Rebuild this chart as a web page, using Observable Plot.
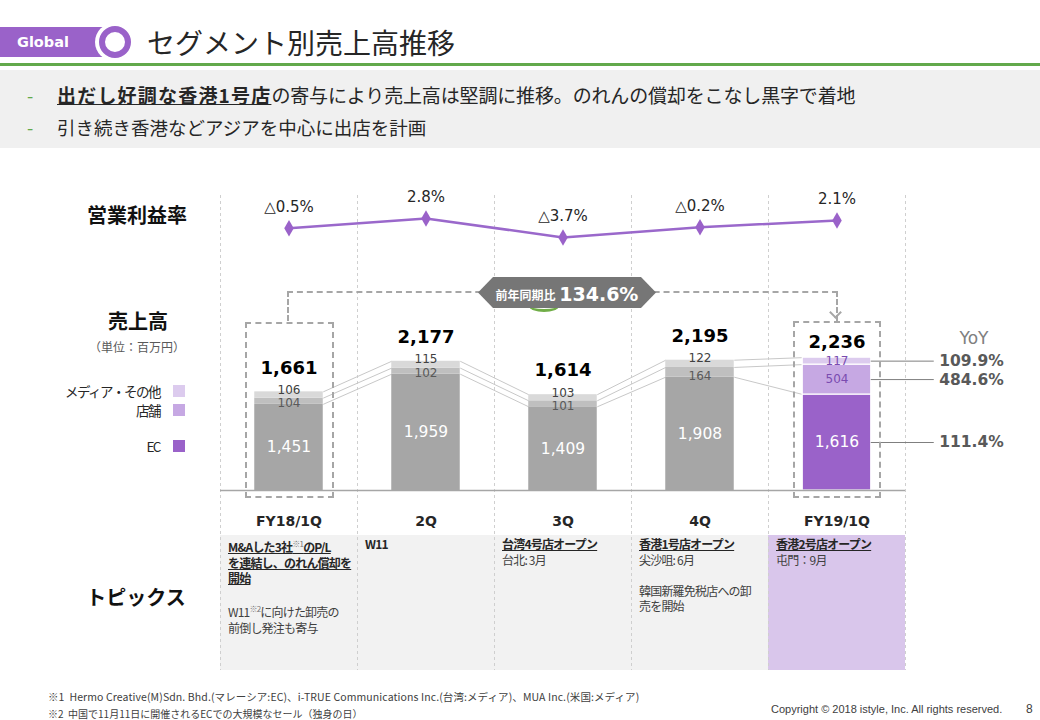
<!DOCTYPE html>
<html><head><meta charset="utf-8">
<script src="https://cdn.jsdelivr.net/npm/d3@7"></script>
<script src="https://cdn.jsdelivr.net/npm/@observablehq/plot@0.6"></script>
<style>
body{margin:0;background:#fff;font-family:"Noto Sans CJK JP","Noto Sans",sans-serif;color:#262626;}
#page{position:relative;width:1040px;height:720px;overflow:hidden;background:#fff;}
.a{position:absolute;white-space:nowrap;}
.lay{position:absolute;left:0;}
.topic{position:absolute;top:536px;font-size:12px;line-height:15.5px;letter-spacing:-0.8px;color:#404040;z-index:3;white-space:nowrap;}
.topic b{color:#262626;text-decoration:underline;}
.sq{position:absolute;width:12px;height:12px;left:173px;}
.lg{position:absolute;right:880px;font-size:13.5px;letter-spacing:-1.5px;color:#262626;transform:translateY(-50%);white-space:nowrap;}
.ttl{position:absolute;font-size:20px;font-weight:bold;color:#111;transform:translate(-50%,-50%);white-space:nowrap;}
</style></head>
<body><div id="page">
  <!-- header -->
  <div class="a" style="left:0;top:27px;width:104px;height:30px;background:#9a62c9;"></div>
  <div class="a" style="left:17px;top:27px;height:30px;line-height:30px;color:#fff;font-family:'DejaVu Sans';font-weight:bold;font-size:14.5px;">Global</div>
  <div class="a" style="left:95px;top:23px;width:38px;height:38px;border-radius:50%;background:#fff;"></div>
  <div class="a" style="left:99px;top:26px;width:20px;height:20px;border-radius:50%;border:6px solid #9a62c9;background:#fff;"></div>
  <div class="a" style="left:147px;top:22px;font-size:28px;line-height:40px;color:#262626;">セグメント別売上高推移</div>
  <div class="a" style="left:0;top:63px;width:1040px;height:3px;background:#62a94b;"></div>
  <div class="a" style="left:0;top:70px;width:1040px;height:78px;background:#f0f0f0;"></div>
  <div class="a" style="left:27px;top:82px;font-size:18px;line-height:26px;color:#62a94b;">-</div>
  <div class="a" style="left:27px;top:114px;font-size:18px;line-height:26px;color:#62a94b;">-</div>
  <div class="a" style="left:57px;top:82px;font-size:19px;line-height:26px;color:#262626;"><b style="text-decoration:underline;letter-spacing:1.2px;">出だし好調な香港1号店</b><span style="letter-spacing:-0.15px;">の寄与により売上高は堅調に推移。のれんの償却をこなし黒字で着地</span></div>
  <div class="a" style="left:57px;top:114px;font-size:18.5px;line-height:26px;color:#262626;">引き続き香港などアジアを中心に出店を計画</div>

  <!-- left titles -->
  <div class="ttl" style="left:137px;top:214px;">営業利益率</div>
  <div class="ttl" style="left:138px;top:320px;">売上高</div>
  <div class="a" style="left:137px;top:346px;transform:translate(-50%,-50%);font-size:12px;color:#595959;">（単位：百万円）</div>
  <div class="ttl" style="left:136px;top:596px;">トピックス</div>
  <div id="legend"></div>

  <!-- topics backgrounds -->
  <div class="a" style="left:220px;top:535px;width:548px;height:135px;background:#f2f2f2;"></div>
  <div class="a" style="left:768px;top:535px;width:137px;height:135px;background:#d9c6eb;"></div>

  <div id="bars" class="lay" style="top:180px;z-index:1;"></div>
  <div id="margin" class="lay" style="top:180px;z-index:2;"></div>

  <!-- annotations -->
  <div class="a" style="left:287px;top:291px;width:547px;height:28px;border-top:2px dashed #a6a6a6;border-left:2px dashed #a6a6a6;border-right:2px dashed #a6a6a6;z-index:2;"></div>
  <div class="a" style="left:831px;top:308px;width:7px;height:7px;border-right:2px solid #a6a6a6;border-bottom:2px solid #a6a6a6;transform:rotate(45deg);z-index:2;"></div>
  <div class="a" style="left:245px;top:322px;width:85px;height:172px;border:2px dashed #a6a6a6;z-index:2;"></div>
  <div class="a" style="left:793px;top:321px;width:84px;height:173px;border:2px dashed #a6a6a6;z-index:2;"></div>
  <div class="a" style="left:529px;top:300px;width:30px;height:9px;border-bottom:3px solid #70ad47;border-radius:50%;z-index:2;"></div>
  <div class="a" style="left:478px;top:277px;width:178px;height:31px;background:#767676;clip-path:polygon(0 50%,15px 0,calc(100% - 15px) 0,100% 50%,calc(100% - 15px) 100%,15px 100%);z-index:3;"></div>
  <div id="hexText" class="a" style="left:478px;top:277px;width:178px;height:31px;line-height:31px;text-align:center;color:#fff;font-weight:bold;z-index:4;"></div>
  <div class="a" style="left:974px;top:338px;transform:translate(-50%,-50%);font-family:'DejaVu Sans';font-size:17px;color:#808080;z-index:3;">YoY</div>

  <div id="topics"></div>

  <!-- footer -->
  <div class="a" style="left:48px;top:690px;font-size:10.5px;line-height:14px;color:#404040;letter-spacing:0.1px;">※1&nbsp; Hermo Creative(M)Sdn. Bhd.(マレーシア:EC)、i-TRUE Communications Inc.(台湾:メディア)、MUA Inc.(米国:メディア)</div>
  <div class="a" style="left:48px;top:707px;font-size:10px;line-height:14px;color:#404040;">※2&nbsp; 中国で11月11日に開催されるECでの大規模なセール（独身の日）</div>
  <div class="a" style="left:771px;top:702px;font-size:11px;line-height:14px;color:#404040;font-family:'Liberation Sans';">Copyright © 2018 istyle, Inc. All rights reserved.</div>
  <div class="a" style="left:1026px;top:701px;font-size:12px;line-height:16px;color:#404040;font-family:'Liberation Sans';">8</div>
</div>
<script>
// ---- data ----
const quarters = ["FY18/1Q", "2Q", "3Q", "4Q", "FY19/1Q"];
const ecSales = [1451, 1959, 1409, 1908, 1616];
const storeSales = [104, 102, 101, 164, 504];
const mediaSales = [106, 115, 103, 122, 117];
const totalSales = [1661, 2177, 1614, 2195, 2236];
const opMargin = [-0.5, 2.8, -3.7, -0.2, 2.1];
const yoySegments = ["media", "store", "EC"];
const yoyValues = [109.9, 484.6, 111.4];
const totalYoY = 134.6;
const legendNames = ["メディア・その他", "店舗", "EC"];
const topicHeads = ["M&Aした3社<sup style='font-size:8px;font-weight:normal;color:#777'>※1</sup>のP/L<br>を連結し、のれん償却を<br>開始", "W11", "台湾4号店オープン", "香港1号店オープン", "香港2号店オープン"];
const topicBodies = ["<br>W11<sup style='font-size:8px;color:#777'>※2</sup>に向けた卸売の<br>前倒し発注も寄与", "", "台北: 3月", "尖沙咀: 6月<br><br>韓国新羅免税店への卸<br>売を開始", "屯門：9月"];

// ---- styling ----
const gray = {EC: "#a6a6a6", store: "#bfbfbf", media: "#d9d9d9"};
const purple = {EC: "#9a62c9", store: "#c6a8e3", media: "#dccbee"};
const fmt = d3.format(",");

const segs = [];
quarters.forEach((q, i) => {
  const pal = i === 4 ? purple : gray;
  const e = ecSales[i], s = storeSales[i], m = mediaSales[i];
  segs.push({i, seg: "EC", y1: 0, y2: e, v: e, fill: pal.EC});
  segs.push({i, seg: "store", y1: e, y2: e + s, v: s, fill: pal.store});
  segs.push({i, seg: "media", y1: e + s, y2: e + s + m, v: m, fill: pal.media});
});
const levels = [ecSales.map((e, i) => e), ecSales.map((e, i) => e + storeSales[i]), ecSales.map((e, i) => e + storeSales[i] + mediaSales[i])];
const links = [];
for (let i = 0; i < 4; i++) for (const L of levels) links.push({x1: i + 0.25, x2: i + 0.75, y1: L[i], y2: L[i + 1]});
const cur = segs.filter(d => d.i === 4);
const yoyData = yoySegments.map((s, k) => {
  const d = cur.find(c => c.seg === s);
  return {y: (d.y1 + d.y2) / 2, v: yoyValues[k]};
});
const rows = totalSales.map((t, i) => ({i, t, e: ecSales[i]}));

const bars = Plot.plot({
  width: 1040, height: 490,
  marginLeft: 220, marginRight: 135, marginTop: 0, marginBottom: 180,
  x: {domain: [-0.5, 4.5], axis: null},
  y: {domain: [0, 5220], axis: null},
  style: {background: "transparent", overflow: "visible", fontFamily: "DejaVu Sans"},
  marks: [
    Plot.ruleX(d3.range(6).map(k => k - 0.5), {stroke: "#cfcfcf", strokeDasharray: "3,3", insetTop: 15, insetBottom: -180}),
    Plot.link(links, {x1: "x1", x2: "x2", y1: "y1", y2: "y2", stroke: "#c8c8c8", strokeWidth: 1}),
    Plot.rect(segs.filter(d => d.i < 4), {x1: d => d.i - 0.25, x2: d => d.i + 0.25, y1: "y1", y2: "y2", fill: "fill"}),
    Plot.rect(cur, {x1: d => d.i - 0.25, x2: d => d.i + 0.25, y1: "y1", y2: "y2", fill: "fill", stroke: "white", strokeWidth: 1.2}),
    Plot.ruleY([0], {stroke: "#a6a6a6", strokeWidth: 1.3}),
    // totals
    Plot.text(rows.filter(d => d.i < 4), {x: "i", y: "t", text: d => fmt(d.t), dy: -24, fontSize: 18, fontWeight: "bold", fill: "#000"}),
    Plot.text(rows.filter(d => d.i === 4), {x: "i", y: "t", text: d => fmt(d.t), dy: -15, fontSize: 18, fontWeight: "bold", fill: "#000"}),
    // segment labels (gray bars)
    Plot.text(segs.filter(d => d.i < 4 && d.seg === "media"), {x: "i", y: "y2", text: d => fmt(d.v), dy: -2, fontSize: 12, fill: "#404040"}),
    Plot.text(segs.filter(d => d.i < 4 && d.seg === "store"), {x: "i", y: "y1", text: d => fmt(d.v), dy: -1, fontSize: 12, fill: "#595959"}),
    Plot.text(segs.filter(d => d.seg === "EC"), {x: "i", y: d => d.y2 / 2, text: d => fmt(d.v), fontSize: 15.5, fill: "white"}),
    // segment labels (current quarter)
    Plot.text(cur.filter(d => d.seg !== "EC"), {x: "i", y: d => (d.y1 + d.y2) / 2, text: d => fmt(d.v), fontSize: 12, fill: "#7a4bb0"}),
    // category labels
    Plot.text(quarters, {x: (d, i) => i, y: () => 0, text: d => d, dy: 31, fontSize: 14, fontWeight: "bold", fill: "#262626"}),
    // YoY leaders
    Plot.ruleY(yoyData, {y: "y", x1: () => 4.25, x2: () => 4.71, stroke: "#7f7f7f", strokeWidth: 1}),
    Plot.text(yoyData, {x: () => 4.71, y: "y", text: d => d.v.toFixed(1) + "%", textAnchor: "start", dx: 5, fontSize: 15.5, fontWeight: "bold", fill: "#595959"})
  ]
});
document.getElementById("bars").appendChild(bars);

const mdata = opMargin.map((v, i) => ({i, v}));
const marginPlot = Plot.plot({
  width: 1040, height: 90,
  marginLeft: 220, marginRight: 135, marginTop: 0, marginBottom: 0,
  x: {domain: [-0.5, 4.5], axis: null},
  y: {domain: [-15.0, 15.8], axis: null},
  style: {background: "transparent", overflow: "visible", fontFamily: "DejaVu Sans"},
  marks: [
    Plot.line(mdata, {x: "i", y: "v", stroke: "#9a68cb", strokeWidth: 2.5}),
    Plot.dot(mdata, {x: "i", y: "v", symbol: "diamond", r: 5, fill: "#9a62c9", stroke: "none"}),
    Plot.text(mdata, {x: "i", y: "v", text: d => (d.v < 0 ? "△" : "") + Math.abs(d.v).toFixed(1) + "%", dy: -21, fontSize: 15, fill: "#262626"})
  ]
});
document.getElementById("margin").appendChild(marginPlot);

// hexagon label
document.getElementById("hexText").innerHTML =
  `<span style="font-size:12px;vertical-align:middle;">前年同期比</span>&nbsp;<span style="font-family:'DejaVu Sans';font-size:19px;vertical-align:middle;">${totalYoY.toFixed(1)}%</span>`;

// legend
const legendTops = [391, 410, 446];
const legendCols = [purple.media, purple.store, purple.EC];
document.getElementById("legend").innerHTML = legendNames.map((n, k) =>
  `<div class="lg" style="top:${legendTops[k]}px;">${n}</div><div class="sq" style="top:${legendTops[k] - 6}px;background:${legendCols[k]};"></div>`).join("");

// topics
document.getElementById("topics").innerHTML = quarters.map((q, i) =>
  `<div class="topic" style="left:${228 + i * 137}px;"><b${i === 1 ? " style='text-decoration:none'" : ""}>${topicHeads[i]}</b><br>${topicBodies[i]}</div>`).join("");
</script>
</body></html>
